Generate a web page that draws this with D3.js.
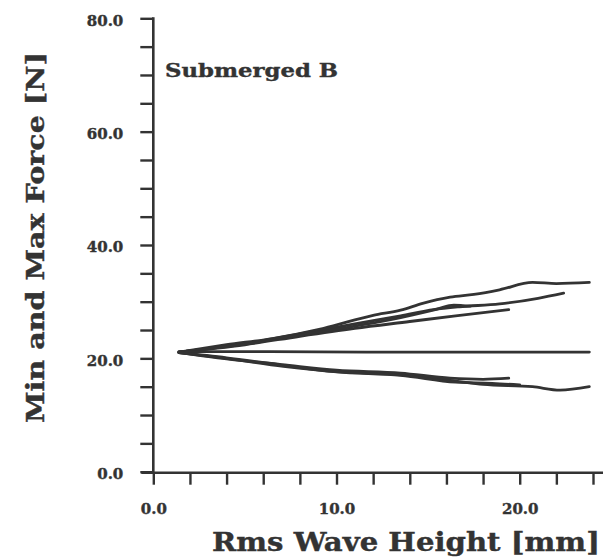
<!DOCTYPE html>
<html><head><meta charset="utf-8">
<script src="https://cdn.jsdelivr.net/npm/d3@7"></script>
<style>
html,body{margin:0;padding:0;background:#fff;}
svg{display:block;}
text{font-family:"DejaVu Serif",serif;font-weight:bold;fill:#333;}
</style></head>
<body><svg id="c" width="609" height="558"></svg>
<script>
// ---- data ----
const xTicks = [0,2,4,6,8,10,12,14,16,18,20,22,24];
const yTicks = [0,5,10,15,20,25,30,35,40,45,50,55,60,65,70,75,80];
const xLabelTicks = [0,10,20];
const yLabelTicks = [0,20,40,60,80];
const panelLabel = "Submerged B";
const xTitle = "Rms Wave Height [mm]";
const yTitle = "Min and Max Force [N]";

// Max force curves
const max1X = [1.4, 4.0, 6.5, 9.3, 12.0, 13.5, 14.7, 16.2, 17.5, 18.9, 20.7, 22.0, 23.8];
const max1Y = [21.1, 22.4, 23.5, 25.3, 27.6, 28.5, 29.7, 30.8, 31.3, 32.1, 33.4, 33.2, 33.4];
const max2X = [1.4, 5.0, 8.0, 11.0, 13.5, 15.3, 16.7, 18.9, 21.0, 22.4];
const max2Y = [21.1, 22.6, 24.3, 26.1, 27.5, 28.6, 29.1, 29.6, 30.6, 31.5];
const max3X = [1.4, 5.0, 8.0, 11.0, 14.0, 16.5, 19.4];
const max3Y = [21.1, 22.4, 23.9, 25.3, 26.5, 27.5, 28.6];
const max4X = [1.4, 5.0, 8.0, 11.0, 13.5, 15.5, 16.4, 17.3];
const max4Y = [21.1, 22.5, 24.1, 25.7, 27.2, 28.7, 29.4, 29.2];
// Mean force curve
const meanX = [1.4, 6.0, 12.0, 18.0, 23.8];
const meanY = [21.2, 21.2, 21.1, 21.1, 21.1];
// Min force curves
const min1X = [1.4, 4.0, 7.1, 10.2, 13.5, 16.5, 18.0, 20.7, 22.2, 23.8];
const min1Y = [21.0, 20.0, 18.6, 17.6, 17.1, 16.0, 15.4, 15.0, 14.4, 15.0];
const min2X = [1.4, 4.0, 7.0, 10.0, 13.5, 16.2, 18.0, 19.4];
const min2Y = [21.0, 19.9, 18.9, 17.9, 17.4, 16.5, 16.3, 16.5];
const min3X = [1.4, 4.0, 7.0, 10.0, 13.5, 16.5, 18.5, 20.0];
const min3Y = [21.0, 20.1, 18.8, 17.6, 17.0, 15.8, 15.6, 15.3];

const series = [
  [max1X, max1Y],[max2X, max2Y],[max3X, max3Y],[max4X, max4Y],
  [meanX, meanY],
  [min1X, min1Y],[min2X, min2Y],[min3X, min3Y]
];

// ---- drawing ----
const svg = d3.select("#c");
const ink = "#333";
const x = d3.scaleLinear().domain([0,24]).range([153.3,593]);
const y = d3.scaleLinear().domain([0,80]).range([471.7,18.3]);

function boldText(sel, size) {
  sel.attr("font-size", size).attr("fill", ink).attr("stroke", ink).attr("stroke-width", 0.4)
    .attr("font-family", "DejaVu Serif").attr("font-weight", "bold");
}

// y axis
const yAxis = d3.axisLeft(y).tickValues(yTicks).tickSize(13).tickPadding(17)
  .tickFormat(d => yLabelTicks.includes(d) ? d3.format(".1f")(d) : "");
const gy = svg.append("g").attr("transform", `translate(${x(0)},0)`).call(yAxis);
gy.select(".domain").remove();
gy.selectAll(".tick line").attr("stroke", ink).attr("stroke-width", 2.4);
gy.selectAll(".tick text").call(boldText, 15).attr("dy", "0.45em");
svg.append("line").attr("x1", x(0)).attr("x2", x(0)).attr("y1", y(80)-1).attr("y2", y(0)+1)
  .attr("stroke", ink).attr("stroke-width", 2.6);

// x axis
const xAxis = d3.axisBottom(x).tickValues(xTicks).tickSize(12).tickPadding(19)
  .tickFormat(d => xLabelTicks.includes(d) ? d3.format(".1f")(d) : "");
const gx = svg.append("g").attr("transform", `translate(0,${y(0)+1})`).call(xAxis);
gx.select(".domain").remove();
gx.selectAll(".tick line").attr("stroke", ink).attr("stroke-width", 2.4);
gx.selectAll(".tick text").call(boldText, 15);
svg.append("line").attr("x1", x(0)-12).attr("x2", 603).attr("y1", y(0)+1).attr("y2", y(0)+1)
  .attr("stroke", ink).attr("stroke-width", 2.6);

// curves
const line = d3.line().x(d => x(d[0])).y(d => y(d[1])).curve(d3.curveMonotoneX);
series.forEach(([xs, ys]) => {
  const pts = xs.map((v,i) => [v, ys[i]]);
  svg.append("path").attr("d", line(pts)).attr("fill","none")
    .attr("stroke", ink).attr("stroke-width", 2.8).attr("stroke-linejoin","round").attr("stroke-linecap","round");
});

// texts
svg.append("text").attr("x", 165).attr("y", 77).call(boldText, 19)
  .attr("textLength", 173).attr("lengthAdjust","spacingAndGlyphs").text(panelLabel);
svg.append("text").attr("x", 212).attr("y", 551).call(boldText, 26)
  .attr("textLength", 388).attr("lengthAdjust","spacingAndGlyphs").text(xTitle);
svg.append("text").attr("transform","translate(44,423) rotate(-90)").call(boldText, 25)
  .attr("textLength", 371).attr("lengthAdjust","spacingAndGlyphs").text(yTitle);
</script></body></html>
